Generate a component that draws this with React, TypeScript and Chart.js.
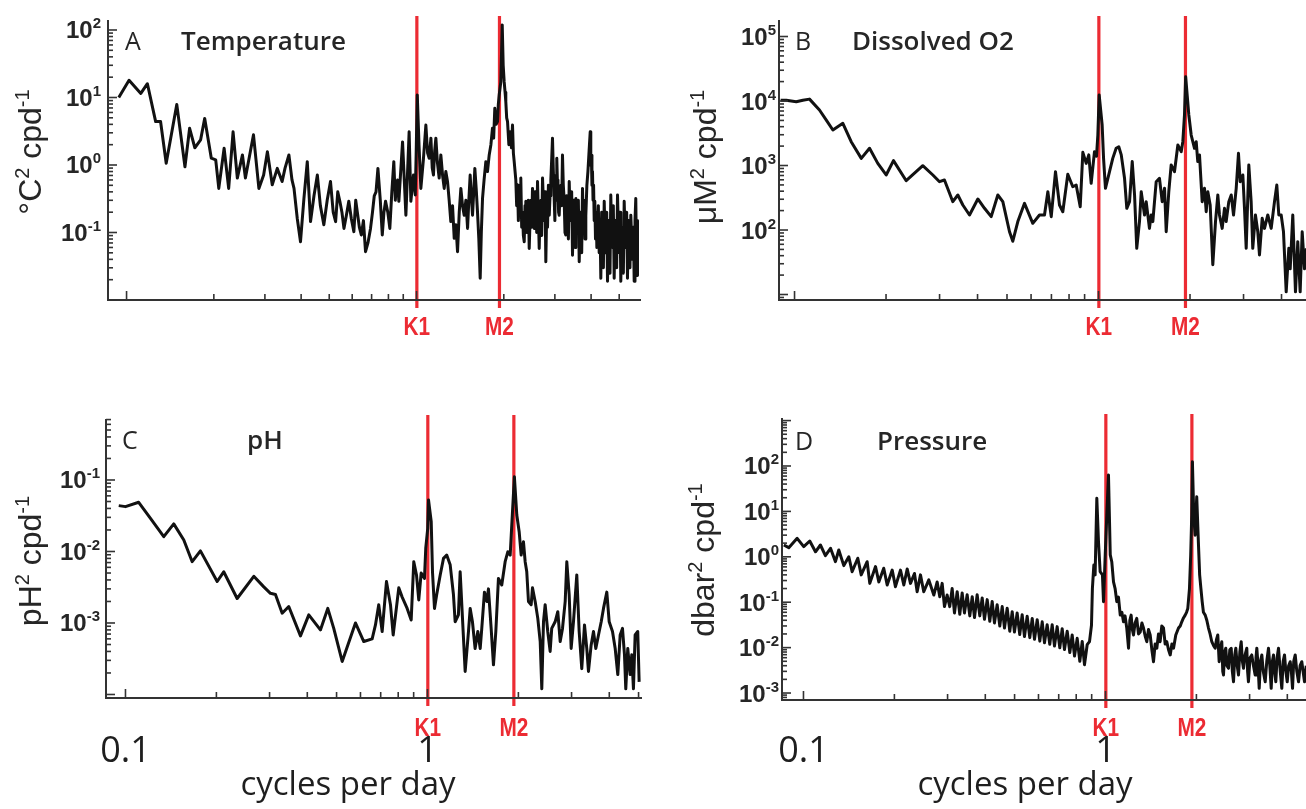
import React, { useEffect, useRef } from "react";
import { Chart, registerables } from "chart.js";

Chart.register(...registerables);

const PAGE_W = 1306;
const PAGE_H = 809;

// Tidal constituents (cycles per day)
const tideNames = ["K1", "M2"];
const tideFreqs = [1.0027, 1.9323];

// x-axis tick values (cycles per day)
const xTickValues = [0.1, 0.2, 0.3, 0.4, 0.5, 0.6, 0.7, 0.8, 0.9, 1, 2, 3, 4, 5, 6, 7, 8, 9];
const xMajorTicks = [0.1, 1];
const bottomTickValues = [0.1, 1];
const bottomTickLabels = ["0.1", "1"];
const xAxisTitle = "cycles per day";

// ---------- Panel A: Temperature ----------
const tempFreq = [
  0.094, 0.102, 0.112, 0.118, 0.126, 0.131, 0.137, 0.149, 0.159, 0.165,
  0.172, 0.180, 0.186, 0.196, 0.203, 0.208, 0.217, 0.225, 0.233, 0.241,
  0.251, 0.257, 0.274, 0.286, 0.297, 0.306, 0.318, 0.331, 0.344, 0.352,
  0.363, 0.372, 0.378, 0.388, 0.398, 0.409, 0.420, 0.431, 0.443, 0.455,
  0.466, 0.479, 0.492, 0.505, 0.516, 0.526, 0.535, 0.544, 0.553, 0.562,
  0.573, 0.584, 0.596, 0.608, 0.617, 0.625, 0.635, 0.645, 0.656, 0.667,
  0.680, 0.694, 0.705, 0.715, 0.725, 0.736, 0.750, 0.762, 0.772, 0.782,
  0.796, 0.809, 0.822, 0.835, 0.845, 0.852, 0.860, 0.869, 0.895, 0.919,
  0.943, 0.956, 0.976, 0.990, 0.997, 1.006, 1.020, 1.035, 1.056, 1.077,
  1.092, 1.106, 1.121, 1.133, 1.144, 1.155, 1.166, 1.180, 1.197, 1.213,
  1.230, 1.246, 1.262, 1.279, 1.296, 1.313, 1.331, 1.349, 1.367, 1.385,
  1.404, 1.422, 1.441, 1.460, 1.480, 1.500, 1.515, 1.531, 1.545, 1.560,
  1.575, 1.589, 1.606, 1.623, 1.640, 1.658, 1.673, 1.689, 1.710, 1.734,
  1.757, 1.781, 1.805, 1.828, 1.845, 1.862, 1.882, 1.902, 1.915, 1.928,
  1.953, 1.975, 1.990, 2.006, 2.020, 2.032, 2.046, 2.060, 2.082, 2.104,
  2.125, 2.143, 2.158, 2.172, 2.200, 2.215, 2.230, 2.245, 2.260, 2.275,
  2.289, 2.305, 2.320, 2.336, 2.352, 2.367, 2.382, 2.398, 2.415, 2.431,
  2.447, 2.463, 2.480, 2.496, 2.512, 2.530, 2.546, 2.563, 2.580, 2.597,
  2.614, 2.630, 2.649, 2.667, 2.685, 2.702, 2.720, 2.738, 2.756, 2.774,
  2.792, 2.811, 2.830, 2.850, 2.869, 2.887, 2.905, 2.925, 2.944, 2.964,
  2.984, 3.000, 3.015, 3.030, 3.046, 3.060, 3.075, 3.090, 3.105, 3.125,
  3.146, 3.166, 3.187, 3.208, 3.230, 3.251, 3.272, 3.295, 3.317, 3.340,
  3.362, 3.383, 3.405, 3.428, 3.451, 3.474, 3.497, 3.520, 3.543, 3.566,
  3.590, 3.615, 3.640, 3.664, 3.688, 3.712, 3.736, 3.761, 3.786, 3.811,
  3.836, 3.868, 3.900, 3.936, 3.972, 3.990, 4.008, 4.027, 4.045, 4.062,
  4.080, 4.100, 4.120, 4.142, 4.165, 4.187, 4.209, 4.237, 4.265, 4.293,
  4.321, 4.350, 4.380, 4.410, 4.439, 4.470, 4.500, 4.528, 4.557, 4.587,
  4.617, 4.647, 4.677, 4.708, 4.740, 4.772, 4.805, 4.838, 4.870, 4.900,
  4.933, 4.966, 5.000, 5.032, 5.064, 5.098, 5.133, 5.168, 5.202, 5.236,
  5.270, 5.305, 5.340, 5.375, 5.410, 5.446, 5.483, 5.520, 5.557, 5.595,
  5.632, 5.668, 5.704, 5.722, 5.740, 5.760, 5.782,
];
const tempPSD = [
  10, 18, 11.5, 16, 4.4, 4.4, 1.06, 7.9, 0.94, 3.5,
  1.8, 2.35, 4.9, 1.26, 1.19, 0.45, 1.77, 0.45, 3.1, 0.64,
  1.41, 0.64, 2.8, 0.45, 0.71, 1.57, 0.51, 0.89, 0.57, 0.9,
  1.41, 0.6, 0.45, 0.16, 0.073, 0.32, 1.12, 0.145, 0.35, 0.71,
  0.25, 0.13, 0.3, 0.57, 0.2, 0.145, 0.4, 0.29, 0.2, 0.115,
  0.18, 0.29, 0.16, 0.103, 0.3, 0.2, 0.12, 0.092, 0.15, 0.052,
  0.07, 0.115, 0.2, 0.35, 0.4, 0.89, 0.3, 0.092, 0.2, 0.29,
  0.2, 0.115, 0.4, 1.12, 0.3, 0.5, 0.6, 0.29, 2.2, 0.18,
  3.1, 0.29, 0.71, 0.36, 1.41, 10.9, 1.98, 0.45, 1.2, 3.9,
  1.5, 1.26, 2.5, 0.9, 0.71, 1.6, 2.5, 1.1, 0.64, 1.41,
  0.7, 0.45, 0.8, 0.57, 0.3, 0.145, 0.25, 0.082, 0.13, 0.052,
  0.2, 0.45, 0.25, 0.18, 0.3, 0.115, 0.3, 0.71, 0.35, 0.18,
  0.4, 0.89, 0.45, 0.2, 0.08, 0.021, 0.1, 0.32, 0.6, 1.12,
  0.8, 1.41, 2.0, 3.5, 2.5, 6.9, 4.0, 4.4, 8, 10.9,
  17, 119, 30, 17, 12, 8.7, 5, 4.4, 2.0, 3.1,
  1.8, 3.9, 1.5, 1.12, 0.6, 0.25, 0.51, 0.15, 0.35, 0.5,
  0.64, 0.12, 0.2, 0.09, 0.073, 0.25, 0.29, 0.1, 0.12, 0.3,
  0.058, 0.15, 0.3, 0.12, 0.45, 0.2, 0.115, 0.4, 0.35, 0.1,
  0.57, 0.2, 0.058, 0.2, 0.3, 0.09, 0.64, 0.3, 0.15, 0.4,
  0.037, 0.2, 0.12, 0.5, 0.18, 0.35, 0.6, 1.2, 2.5, 0.8,
  0.32, 0.15, 0.7, 0.3, 1.26, 0.6, 0.5, 0.2, 0.18, 0.4,
  0.5, 0.25, 1.41, 0.5, 0.3, 0.1, 0.092, 0.35, 0.2, 0.08,
  0.57, 0.2, 0.15, 0.4, 0.046, 0.3, 0.15, 0.06, 0.32, 0.12,
  0.1, 0.3, 0.037, 0.2, 0.15, 0.05, 0.45, 0.12, 0.3, 0.08,
  0.18, 0.5, 0.8, 1.6, 3.1, 1.0, 1.4, 0.5, 0.8, 0.3,
  0.5, 0.15, 0.29, 0.08, 0.2, 0.06, 0.115, 0.25, 0.05, 0.15,
  0.021, 0.2, 0.1, 0.03, 0.29, 0.08, 0.05, 0.2, 0.019, 0.15,
  0.09, 0.025, 0.36, 0.1, 0.06, 0.25, 0.021, 0.15, 0.1, 0.03,
  0.36, 0.12, 0.05, 0.2, 0.019, 0.12, 0.08, 0.025, 0.29, 0.1,
  0.06, 0.2, 0.021, 0.15, 0.07, 0.03, 0.18, 0.08, 0.04, 0.12,
  0.019, 0.15, 0.32, 0.1, 0.06, 0.15, 0.023,
];

// ---------- Panel B: Dissolved O2 ----------
const oxyFreq = [
  0.090, 0.0939, 0.1013, 0.1065, 0.112, 0.1208, 0.1272, 0.1337, 0.1442, 0.1536,
  0.1658, 0.1765, 0.1879, 0.2002, 0.2116, 0.233, 0.2642, 0.2851, 0.2999, 0.3113,
  0.3317, 0.3445, 0.3578, 0.3764, 0.4009, 0.4217, 0.4436, 0.4664, 0.4844, 0.5096,
  0.5225, 0.5427, 0.5709, 0.6079, 0.6395, 0.6642, 0.6813, 0.6991, 0.7219, 0.7441,
  0.7631, 0.7925, 0.823, 0.8444, 0.8706, 0.8881, 0.911, 0.929, 0.946, 0.970,
  0.985, 0.995, 1.005, 1.028, 1.039, 1.054, 1.087, 1.114, 1.143, 1.166,
  1.188, 1.218, 1.239, 1.265, 1.291, 1.314, 1.336, 1.364, 1.382, 1.417,
  1.435, 1.471, 1.490, 1.509, 1.548, 1.587, 1.620, 1.649, 1.670, 1.703,
  1.734, 1.778, 1.824, 1.871, 1.894, 1.918, 1.935, 1.982, 2.018, 2.069,
  2.096, 2.121, 2.149, 2.193, 2.232, 2.261, 2.289, 2.330, 2.377, 2.426,
  2.469, 2.500, 2.552, 2.597, 2.630, 2.683, 2.733, 2.781, 2.838, 2.887,
  2.925, 2.984, 3.022, 3.061, 3.122, 3.178, 3.217, 3.283, 3.342, 3.385,
  3.455, 3.516, 3.605, 3.699, 3.793, 3.860, 3.919, 3.990, 4.060, 4.144,
  4.227, 4.272, 4.356, 4.446, 4.524, 4.607, 4.678, 4.760, 4.830,
];
const oxyPSD = [
  10300, 10300, 9750, 10300, 10700, 7250, 5070, 3550, 4510, 2340,
  1290, 1850, 1080, 713, 1190, 581, 993, 713, 561, 596,
  275, 349, 244, 171, 303, 217, 161, 349, 275, 94,
  67, 135, 259, 127, 171, 171, 392, 161, 802, 244,
  192, 731, 469, 499, 230, 1600, 1080, 1460, 530, 1640,
  1400, 2970, 12400, 4250, 1290, 443, 802, 1290, 1850, 1950,
  1460, 633, 217, 275, 1150, 349, 52, 135, 392, 171,
  275, 106, 171, 135, 561, 633, 275, 443, 94, 392,
  1020, 802, 2080, 1640, 2340, 6070, 23800, 6070, 2970, 1850,
  2340, 1150, 1460, 275, 443, 192, 392, 244, 29, 135,
  349, 171, 106, 217, 135, 275, 349, 171, 443, 1550,
  561, 713, 217, 52, 1020, 275, 52, 171, 94, 41,
  152, 106, 171, 106, 275, 499, 171, 171, 94, 11,
  52, 25, 171, 11, 66, 11, 94, 25, 52,
];

// ---------- Panel C: pH ----------
const phFreq = [
  0.095, 0.100, 0.1106, 0.121, 0.1339, 0.1445, 0.156, 0.1663, 0.1771, 0.2012,
  0.2115, 0.2343, 0.266, 0.2871, 0.302, 0.3138, 0.3303, 0.3473, 0.3797, 0.4046,
  0.4421, 0.4676, 0.4894, 0.5219, 0.5775, 0.6153, 0.6559, 0.6726, 0.6896, 0.7079,
  0.7315, 0.7542, 0.7699, 0.8035, 0.8245, 0.8565, 0.8832, 0.9009, 0.9197, 0.9358,
  0.953, 0.9774, 0.987, 1.002, 1.008, 1.029, 1.039, 1.055, 1.073, 1.102,
  1.130, 1.158, 1.189, 1.219, 1.235, 1.266, 1.283, 1.306, 1.333, 1.367,
  1.385, 1.409, 1.438, 1.468, 1.495, 1.513, 1.544, 1.572, 1.592, 1.625,
  1.654, 1.684, 1.718, 1.762, 1.808, 1.845, 1.879, 1.912, 1.940, 1.976,
  2.012, 2.043, 2.079, 2.106, 2.132, 2.160, 2.205, 2.227, 2.273, 2.319,
  2.362, 2.391, 2.422, 2.453, 2.502, 2.548, 2.579, 2.647, 2.701, 2.751,
  2.800, 2.858, 2.893, 2.946, 2.991, 3.044, 3.122, 3.179, 3.243, 3.311,
  3.369, 3.413, 3.483, 3.546, 3.609, 3.684, 3.761, 3.827, 3.925, 3.997,
  4.099, 4.184, 4.268, 4.346, 4.423, 4.491, 4.536, 4.605, 4.689, 4.748,
  4.809, 4.871, 4.969, 5.023,
];
const phPSD = [
  0.0438, 0.0424, 0.0488, 0.0291, 0.0161, 0.0243, 0.0145, 0.0072, 0.0102, 0.0038,
  0.0052, 0.0022, 0.0045, 0.0032, 0.0026, 0.0025, 0.00137, 0.0017, 0.00066, 0.0013,
  0.0008, 0.0016, 0.00084, 0.00029, 0.001, 0.00055, 0.0006, 0.00094, 0.0018, 0.00076,
  0.0038, 0.0018, 0.00068, 0.0031, 0.0023, 0.0016, 0.0011, 0.0072, 0.0047, 0.0021,
  0.005, 0.0042, 0.0111, 0.0211, 0.0525, 0.0261, 0.0052, 0.0016, 0.0025, 0.0047,
  0.008, 0.0089, 0.0065, 0.0025, 0.00104, 0.0013, 0.0052, 0.00116, 0.00021, 0.00076,
  0.0016, 0.00104, 0.00044, 0.00076, 0.00044, 0.00084, 0.0027, 0.002, 0.003, 0.00084,
  0.00026, 0.00076, 0.0042, 0.0034, 0.0072, 0.0099, 0.0089, 0.036, 0.111, 0.0324,
  0.0189, 0.0089, 0.0137, 0.0072, 0.0052, 0.002, 0.0018, 0.0031, 0.002, 0.00116,
  0.00055, 0.00012, 0.00104, 0.0018, 0.00076, 0.0004, 0.00084, 0.00104, 0.00144, 0.00055,
  0.00084, 0.002, 0.0072, 0.0025, 0.00044, 0.00104, 0.0047, 0.00076, 0.00023, 0.00094,
  0.00044, 0.00021, 0.00049, 0.00076, 0.00044, 0.00068, 0.00104, 0.0016, 0.0027, 0.00104,
  0.00076, 0.00044, 0.00019, 0.00068, 0.00084, 0.00036, 0.00012, 0.00044, 0.00019, 0.00036,
  0.00012, 0.00068, 0.00076, 0.00015,
];

// ---------- Panel D: Pressure ----------
const presFreq = [
  0.0861, 0.0894, 0.0953, 0.1002, 0.1049, 0.1096, 0.1138, 0.1182, 0.1229, 0.1276,
  0.1309, 0.136, 0.1413, 0.1449, 0.1513, 0.1553, 0.1625, 0.1658, 0.1732, 0.1776,
  0.1844, 0.1893, 0.1967, 0.2016, 0.2095, 0.2149, 0.2205, 0.2261, 0.2331, 0.2379,
  0.244, 0.2502, 0.26, 0.2701, 0.2771, 0.2827, 0.2879, 0.293, 0.299, 0.305,
  0.3107, 0.3162, 0.3228, 0.3293, 0.3353, 0.3412, 0.3483, 0.3554, 0.362, 0.3684,
  0.3759, 0.3835, 0.3906, 0.3975, 0.4058, 0.4139, 0.4215, 0.4289, 0.4378, 0.4467,
  0.455, 0.463, 0.4726, 0.482, 0.491, 0.4995, 0.5099, 0.5201, 0.5298, 0.5392,
  0.5504, 0.5615, 0.572, 0.5821, 0.5941, 0.6061, 0.6172, 0.6281, 0.641, 0.6539,
  0.666, 0.6778, 0.6918, 0.7058, 0.7188, 0.7315, 0.7468, 0.7618, 0.7757, 0.7897,
  0.8059, 0.8222, 0.8373, 0.852, 0.8697, 0.8851, 0.8987, 0.905, 0.915, 0.924,
  0.936, 0.948, 0.960, 0.977, 0.985, 0.998, 1.010, 1.023, 1.037, 1.049,
  1.063, 1.076, 1.090, 1.104, 1.119, 1.133, 1.147, 1.161, 1.176, 1.192,
  1.204, 1.216, 1.227, 1.238, 1.253, 1.269, 1.286, 1.303, 1.320, 1.336,
  1.353, 1.370, 1.388, 1.406, 1.424, 1.442, 1.460, 1.479, 1.498, 1.517,
  1.536, 1.556, 1.576, 1.596, 1.617, 1.638, 1.659, 1.680, 1.709, 1.745,
  1.768, 1.789, 1.812, 1.836, 1.855, 1.873, 1.897, 1.915, 1.930, 1.940,
  1.960, 1.980, 2.005, 2.030, 2.050, 2.070, 2.090, 2.110, 2.139, 2.165,
  2.193, 2.220, 2.249, 2.280, 2.308, 2.330, 2.354, 2.379, 2.400, 2.427,
  2.445, 2.459, 2.480, 2.502, 2.525, 2.554, 2.580, 2.608, 2.630, 2.654,
  2.680, 2.701, 2.730, 2.757, 2.785, 2.814, 2.840, 2.864, 2.900, 2.937,
  2.955, 2.974, 3.010, 3.050, 3.090, 3.130, 3.150, 3.170, 3.200, 3.228,
  3.260, 3.293, 3.330, 3.379, 3.420, 3.465, 3.500, 3.537, 3.570, 3.600,
  3.630, 3.664, 3.700, 3.740, 3.790, 3.835, 3.875, 3.915, 3.955, 3.997,
  4.040, 4.089, 4.125, 4.162, 4.200, 4.248, 4.300, 4.357, 4.410, 4.467,
  4.510, 4.560, 4.620,
];
const presPSD = [
  1.82, 1.59, 2.55, 1.67, 2.23, 1.29, 1.82, 1.06, 1.54, 0.78,
  1.41, 0.64, 1.0, 0.47, 0.93, 0.40, 0.78, 0.26, 0.61, 0.28,
  0.56, 0.24, 0.51, 0.22, 0.51, 0.24, 0.54, 0.26, 0.43, 0.17,
  0.40, 0.17, 0.31, 0.144, 0.28, 0.132, 0.26, 0.08, 0.144, 0.08,
  0.2, 0.058, 0.17, 0.054, 0.16, 0.058, 0.146, 0.05, 0.132, 0.046,
  0.146, 0.05, 0.124, 0.042, 0.114, 0.038, 0.104, 0.035, 0.088, 0.03,
  0.08, 0.027, 0.074, 0.023, 0.062, 0.022, 0.058, 0.0195, 0.053, 0.0176,
  0.049, 0.0166, 0.044, 0.0152, 0.041, 0.0139, 0.037, 0.0128, 0.032, 0.0118,
  0.032, 0.0108, 0.029, 0.0099, 0.026, 0.0091, 0.023, 0.0078, 0.019, 0.0065,
  0.016, 0.005, 0.0137, 0.0042, 0.0116, 0.0135, 0.031, 0.2, 0.66, 0.4,
  19.4, 2.15, 0.47, 0.40, 0.103, 1.1, 8.3, 63, 1.1, 0.78,
  0.28, 0.2, 0.103, 0.13, 0.052, 0.06, 0.037, 0.05, 0.027, 0.0097,
  0.04, 0.052, 0.025, 0.019, 0.035, 0.044, 0.02, 0.022, 0.035, 0.027,
  0.018, 0.0135, 0.025, 0.019, 0.009, 0.0049, 0.012, 0.0097, 0.02, 0.0135,
  0.03, 0.027, 0.012, 0.0135, 0.009, 0.0069, 0.012, 0.0097, 0.019, 0.027,
  0.03, 0.037, 0.045, 0.052, 0.06, 0.073, 0.2, 1.1, 8.3, 124,
  8, 3, 21, 2.15, 0.4, 0.2, 0.103, 0.06, 0.052, 0.04,
  0.027, 0.02, 0.0135, 0.011, 0.0097, 0.015, 0.019, 0.0049, 0.009, 0.0135,
  0.003, 0.0025, 0.008, 0.0097, 0.004, 0.0035, 0.009, 0.0097, 0.003, 0.00177,
  0.007, 0.0097, 0.004, 0.0025, 0.008, 0.0135, 0.005, 0.0035, 0.007, 0.0097,
  0.003, 0.00177, 0.006, 0.0069, 0.004, 0.0025, 0.006, 0.0097, 0.004, 0.00127,
  0.005, 0.0069, 0.003, 0.00177, 0.005, 0.0097, 0.004, 0.00127, 0.005, 0.0069,
  0.003, 0.00177, 0.006, 0.0097, 0.003, 0.00127, 0.005, 0.0069, 0.003, 0.00177,
  0.004, 0.0049, 0.003, 0.00127, 0.005, 0.0069, 0.003, 0.00177, 0.004, 0.0049,
  0.003, 0.00177, 0.004,
];

// ---------- styling ----------
const RED = "#ec2b33";
const AXIS = "#333333";
const INK = "#262626";
const LINE = "#111111";
const SANS = '"Liberation Sans", Arial, sans-serif';
const OPEN = '"Open Sans", "Noto Sans", sans-serif';

type Seg = { t: string; sup?: boolean };

type PanelSpec = {
  id: string;
  letter: string;
  title: string;
  letterX: number;
  titleX: number;
  titleBase: number;
  yTitle: Seg[];
  yTitleCx: number;
  yTitleCy: number;
  freq: number[];
  psd: number[];
  area: { l: number; t: number; r: number; b: number };
  xMin: number;
  xMax: number;
  yMin: number;
  yMax: number;
  yLabelExps: number[];
  labelRight: number;
  tideLabelY: number;
  bottom: boolean;
  xTitleCx: number;
};

const panels: PanelSpec[] = [
  {
    id: "A", letter: "A", title: "Temperature",
    letterX: 125, titleX: 181, titleBase: 50,
    yTitle: [{ t: "°C" }, { t: "2", sup: true }, { t: " cpd" }, { t: "-1", sup: true }],
    yTitleCx: 30, yTitleCy: 152,
    freq: tempFreq, psd: tempPSD,
    area: { l: 108, t: 20, r: 641, b: 300 },
    xMin: 0.0863, xMax: 5.945, yMin: 0.01, yMax: 140.6,
    yLabelExps: [2, 1, 0, -1], labelRight: 101,
    tideLabelY: 328, bottom: false, xTitleCx: 0,
  },
  {
    id: "B", letter: "B", title: "Dissolved O2",
    letterX: 795, titleX: 852, titleBase: 50,
    yTitle: [{ t: "μM" }, { t: "2", sup: true }, { t: " cpd" }, { t: "-1", sup: true }],
    yTitleCx: 705, yTitleCy: 157,
    freq: oxyFreq, psd: oxyPSD,
    area: { l: 779, t: 20, r: 1306, b: 300 },
    xMin: 0.0889, xMax: 4.815, yMin: 8.22, yMax: 180300,
    yLabelExps: [5, 4, 3, 2], labelRight: 776,
    tideLabelY: 328, bottom: false, xTitleCx: 0,
  },
  {
    id: "C", letter: "C", title: "pH",
    letterX: 122, titleX: 247, titleBase: 449,
    yTitle: [{ t: "pH" }, { t: "2", sup: true }, { t: " cpd" }, { t: "-1", sup: true }],
    yTitleCx: 30, yTitleCy: 561,
    freq: phFreq, psd: phPSD,
    area: { l: 106, t: 419, r: 642, b: 698 },
    xMin: 0.0862, xMax: 5.133, yMin: 0.0000893, yMax: 0.7129,
    yLabelExps: [-1, -2, -3], labelRight: 100,
    tideLabelY: 729, bottom: true, xTitleCx: 348,
  },
  {
    id: "D", letter: "D", title: "Pressure",
    letterX: 795, titleX: 877, titleBase: 450,
    yTitle: [{ t: "dbar" }, { t: "2", sup: true }, { t: " cpd" }, { t: "-1", sup: true }],
    yTitleCx: 703, yTitleCy: 560,
    freq: presFreq, psd: presPSD,
    area: { l: 782, t: 418, r: 1306, b: 700 },
    xMin: 0.0849, xMax: 4.612, yMin: 0.000702, yMax: 1140,
    yLabelExps: [2, 1, 0, -1, -2, -3], labelRight: 779,
    tideLabelY: 729, bottom: true, xTitleCx: 1025,
  },
];

function segWidth(ctx: CanvasRenderingContext2D, segs: Seg[], base: string, sup: string) {
  let w = 0;
  for (const s of segs) {
    ctx.font = s.sup ? sup : base;
    w += ctx.measureText(s.t).width;
  }
  return w;
}

function drawSegs(ctx: CanvasRenderingContext2D, segs: Seg[], x: number, baseline: number, base: string, sup: string, rise: number) {
  let cx = x;
  for (const s of segs) {
    ctx.font = s.sup ? sup : base;
    ctx.fillText(s.t, cx, s.sup ? baseline - rise : baseline);
    cx += ctx.measureText(s.t).width;
  }
}

function makeDecor(spec: PanelSpec) {
  return {
    id: "decor" + spec.id,
    beforeDatasetsDraw(chart: any) {
      const ctx: CanvasRenderingContext2D = chart.ctx;
      const a = chart.chartArea;
      const xs = chart.scales.x;
      ctx.save();
      ctx.strokeStyle = RED;
      ctx.lineWidth = 3.2;
      tideFreqs.forEach((f) => {
        const x = xs.getPixelForValue(f);
        ctx.beginPath();
        ctx.moveTo(x, a.top - 4);
        ctx.lineTo(x, a.bottom + 8);
        ctx.stroke();
      });
      ctx.restore();
    },
    afterDraw(chart: any) {
      const ctx: CanvasRenderingContext2D = chart.ctx;
      const a = chart.chartArea;
      const xs = chart.scales.x;
      const ys = chart.scales.y;
      ctx.save();

      // axis lines
      ctx.strokeStyle = AXIS;
      ctx.lineWidth = 2;
      ctx.beginPath();
      ctx.moveTo(a.left, a.top);
      ctx.lineTo(a.left, a.bottom);
      ctx.lineTo(a.right, a.bottom);
      ctx.stroke();

      // x ticks (inward)
      ctx.lineWidth = 1.6;
      for (const v of xTickValues) {
        if (v < spec.xMin || v > spec.xMax) continue;
        const x = xs.getPixelForValue(v);
        const len = xMajorTicks.includes(v) ? 9 : 6;
        ctx.beginPath();
        ctx.moveTo(x, a.bottom);
        ctx.lineTo(x, a.bottom - len);
        ctx.stroke();
      }

      // y ticks (inward), log minor ticks
      const e0 = Math.floor(Math.log10(spec.yMin));
      const e1 = Math.ceil(Math.log10(spec.yMax));
      for (let e = e0; e <= e1; e++) {
        for (let m = 1; m <= 9; m++) {
          const v = m * Math.pow(10, e);
          if (v < spec.yMin || v > spec.yMax) continue;
          const y = ys.getPixelForValue(v);
          const len = m === 1 ? 9 : 5;
          ctx.beginPath();
          ctx.moveTo(a.left, y);
          ctx.lineTo(a.left + len, y);
          ctx.stroke();
        }
      }

      // y tick labels 10^n
      ctx.fillStyle = INK;
      ctx.textBaseline = "alphabetic";
      ctx.textAlign = "left";
      const baseF = `bold 24px ${SANS}`;
      const supF = `bold 15px ${SANS}`;
      for (const e of spec.yLabelExps) {
        const y = ys.getPixelForValue(Math.pow(10, e));
        const segs: Seg[] = [{ t: "10" }, { t: String(e), sup: true }];
        const w = segWidth(ctx, segs, baseF, supF);
        drawSegs(ctx, segs, spec.labelRight - w, y + 8.5, baseF, supF, 10);
      }

      // y axis title (rotated)
      ctx.save();
      ctx.translate(spec.yTitleCx, spec.yTitleCy);
      ctx.rotate(-Math.PI / 2);
      const tF = `32px ${SANS}`;
      const tS = `20px ${SANS}`;
      const tw = segWidth(ctx, spec.yTitle, tF, tS);
      drawSegs(ctx, spec.yTitle, -tw / 2, 11, tF, tS, 12);
      ctx.restore();

      // panel letter & title
      ctx.fillStyle = INK;
      ctx.font = `400 25px ${OPEN}`;
      ctx.fillText(spec.letter, spec.letterX, spec.titleBase);
      ctx.font = `600 26px ${OPEN}`;
      ctx.fillText(spec.title, spec.titleX, spec.titleBase);

      // tidal labels (red, condensed)
      ctx.fillStyle = RED;
      ctx.textAlign = "center";
      ctx.textBaseline = "middle";
      tideFreqs.forEach((f, i) => {
        const x = xs.getPixelForValue(f);
        ctx.save();
        ctx.translate(x, spec.tideLabelY);
        ctx.scale(0.8, 1);
        ctx.font = `bold 26px ${SANS}`;
        ctx.fillText(tideNames[i], 0, 0);
        ctx.restore();
      });

      // bottom-row x labels
      if (spec.bottom) {
        ctx.fillStyle = "#1e1e1e";
        ctx.textAlign = "center";
        ctx.textBaseline = "middle";
        ctx.font = `500 36px ${OPEN}`;
        bottomTickValues.forEach((v, i) => {
          ctx.fillText(bottomTickLabels[i], xs.getPixelForValue(v), 752);
        });
        ctx.font = `500 33px ${OPEN}`;
        ctx.fillText(xAxisTitle, spec.xTitleCx, 786);
      }
      ctx.restore();
    },
  };
}

function SpectrumPanel({ spec }: { spec: PanelSpec }) {
  const ref = useRef<HTMLCanvasElement | null>(null);
  useEffect(() => {
    const canvas = ref.current;
    if (!canvas) return;
    const n = Math.min(spec.freq.length, spec.psd.length);
    const points = [];
    for (let i = 0; i < n; i++) points.push({ x: spec.freq[i], y: spec.psd[i] });
    const chart = new Chart(canvas, {
      type: "line",
      data: {
        datasets: [
          {
            data: points,
            borderColor: LINE,
            borderWidth: 3,
            pointRadius: 0,
            tension: 0,
            fill: false,
            borderJoinStyle: "round",
          } as any,
        ],
      },
      options: {
        responsive: false,
        animation: false,
        events: [],
        layout: {
          padding: {
            left: spec.area.l,
            top: spec.area.t,
            right: PAGE_W - spec.area.r,
            bottom: PAGE_H - spec.area.b,
          },
        },
        scales: {
          x: { type: "logarithmic", min: spec.xMin, max: spec.xMax, display: false },
          y: { type: "logarithmic", min: spec.yMin, max: spec.yMax, display: false },
        },
        plugins: { legend: { display: false }, tooltip: { enabled: false } },
      } as any,
      plugins: [makeDecor(spec)],
    });
    return () => chart.destroy();
  }, [spec]);
  return (
    <canvas
      ref={ref}
      width={PAGE_W}
      height={PAGE_H}
      style={{ position: "absolute", left: 0, top: 0, width: PAGE_W, height: PAGE_H }}
    />
  );
}

export default function App() {
  return (
    <div
      style={{
        position: "absolute",
        left: 0,
        top: 0,
        width: PAGE_W,
        height: PAGE_H,
        background: "#ffffff",
        overflow: "hidden",
      }}
    >
      {panels.map((p) => (
        <SpectrumPanel key={p.id} spec={p} />
      ))}
    </div>
  );
}
